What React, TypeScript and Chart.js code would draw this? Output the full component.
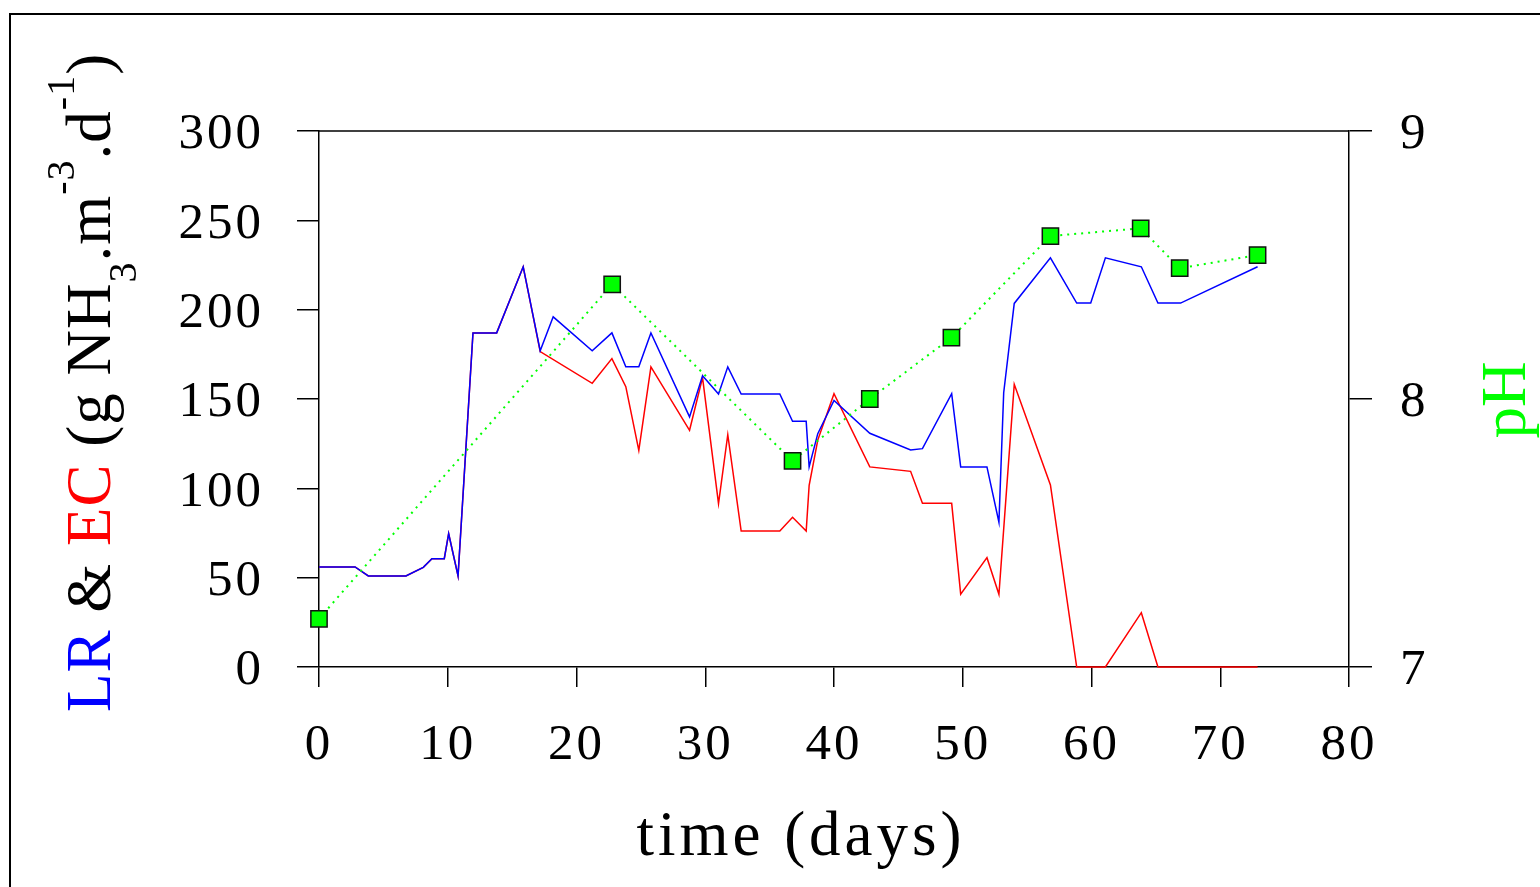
import React, { useEffect, useRef } from 'react';
import { Chart, registerables } from 'chart.js';

Chart.register(...registerables);

// ---------- data ----------
const lrDays = [0, 2.8, 3.83, 6.75, 8.1, 8.77, 9.73, 10.07, 10.8, 11.96, 13.8, 15.86, 17.18, 18.19, 21.22, 22.75, 23.83, 24.84, 25.78, 28.78, 29.79, 31.03, 31.75, 32.79, 35.79, 36.78, 37.84, 38.07, 38.74, 40.0, 42.78, 45.95, 46.87, 49.14, 49.84, 51.88, 52.81, 53.18, 54.0, 56.81, 58.85, 59.94, 61.08, 63.87, 65.16, 66.92, 72.9];
const lrValues = [56, 56, 51, 51, 55.8, 60.6, 60.6, 74.6, 51, 187, 187, 224, 177, 196, 177, 187, 168, 168, 187, 140, 163, 152.8, 168, 152.8, 152.8, 137.5, 137.5, 112, 130.6, 149.2, 130.8, 121.5, 122.2, 153, 112, 112, 81, 153.5, 203.5, 229, 203.7, 203.7, 229, 224, 203.7, 203.7, 224];

const ecDays = [0, 2.8, 3.83, 6.75, 8.1, 8.77, 9.73, 10.07, 10.8, 11.96, 13.8, 15.86, 17.18, 21.22, 22.75, 23.83, 24.84, 25.78, 28.78, 29.79, 31.03, 31.75, 32.79, 35.79, 36.78, 37.84, 38.07, 38.74, 40.0, 42.78, 45.95, 46.87, 49.14, 49.84, 51.88, 52.81, 54.0, 56.81, 58.85, 61.08, 63.87, 65.16, 72.9];
const ecValues = [56, 56, 51, 51, 55.8, 60.6, 60.6, 74.6, 51, 187, 187, 224, 176.5, 158.8, 172.6, 156.9, 121.3, 168, 132.5, 162, 91.4, 130, 76.1, 76.1, 83.8, 76.1, 101.7, 127, 153, 112, 109.5, 91.6, 91.6, 40.7, 61.2, 40.7, 158.2, 101.9, 0, 0, 30.4, 0, 0];

const phDays = [0, 22.77, 36.78, 42.78, 49.12, 56.81, 63.82, 66.85, 72.9];
const phValues = [7.18, 8.428, 7.769, 8.0, 8.229, 8.608, 8.637, 8.488, 8.537];

const xTickValues = [0, 10, 20, 30, 40, 50, 60, 70, 80];
const leftTickValues = [0, 50, 100, 150, 200, 250, 300];
const rightTickValues = [7, 8, 9];

const xTitle = 'time (days)';
const rightTitle = 'pH';

// ---------- styles ----------
const FONT = '"Liberation Serif", "Times New Roman", serif';
const W = 1540;
const H = 887;

type Seg = { text: string; size: number; color: string; dy: number };
const yTitleSegments: Seg[] = [
  { text: 'LR ', size: 63, color: '#0000ff', dy: 0 },
  { text: '& ', size: 63, color: '#000000', dy: 0 },
  { text: 'EC ', size: 63, color: '#ff0000', dy: 0 },
  { text: '(g NH', size: 63, color: '#000000', dy: 0 },
  { text: '3', size: 40, color: '#000000', dy: 26 },
  { text: '.m', size: 63, color: '#000000', dy: 0 },
  { text: '-3', size: 40, color: '#000000', dy: -36 },
  { text: '.d', size: 63, color: '#000000', dy: 0 },
  { text: '-1', size: 40, color: '#000000', dy: -36 },
  { text: ')', size: 63, color: '#000000', dy: 0 },
];

const decorPlugin = {
  id: 'decor',
  beforeDraw(chart: any) {
    (chart.ctx as any).letterSpacing = '3px';
  },
  afterDraw(chart: any) {
    const ctx = chart.ctx as CanvasRenderingContext2D & { letterSpacing?: string };
    const { left, right, top } = chart.chartArea;
    ctx.save();
    // outer frame
    ctx.strokeStyle = '#000';
    ctx.lineWidth = 2;
    ctx.beginPath();
    ctx.moveTo(10, H);
    ctx.lineTo(10, 14);
    ctx.lineTo(W, 14);
    ctx.stroke();
    // top border of plot
    ctx.lineWidth = 1.5;
    ctx.beginPath();
    ctx.moveTo(left, top);
    ctx.lineTo(right, top);
    ctx.stroke();

    // x title
    ctx.letterSpacing = '4px';
    ctx.font = `63px ${FONT}`;
    ctx.fillStyle = '#000';
    ctx.textAlign = 'center';
    ctx.textBaseline = 'alphabetic';
    ctx.fillText(xTitle, 801, 855);

    // right title (pH)
    ctx.save();
    ctx.translate(1525, 400);
    ctx.rotate(-Math.PI / 2);
    ctx.fillStyle = '#00ff00';
    ctx.letterSpacing = '0px';
    ctx.fillText(rightTitle, 0, 0);
    ctx.restore();

    // left rich title
    ctx.save();
    ctx.translate(110, 712);
    ctx.rotate(-Math.PI / 2);
    ctx.textAlign = 'left';
    ctx.letterSpacing = '1px';
    let cx = 0;
    for (const seg of yTitleSegments) {
      ctx.font = `${seg.size}px ${FONT}`;
      ctx.fillStyle = seg.color;
      ctx.fillText(seg.text, cx, seg.dy);
      cx += ctx.measureText(seg.text).width;
    }
    ctx.restore();

    ctx.restore();
  },
};

export default function App() {
  const ref = useRef<HTMLCanvasElement | null>(null);

  useEffect(() => {
    if (!ref.current) return;
    const toXY = (xs: number[], ys: number[]) => xs.map((x, i) => ({ x, y: ys[i] }));
    const axisCommon = {
      border: { display: true, color: '#000', width: 1.5 },
      grid: { drawOnChartArea: false, drawTicks: true, color: '#000', lineWidth: 1.5 },
    };
    const tickFont = { family: FONT, size: 51 };
    const chart = new Chart(ref.current, {
      type: 'line',
      data: {
        datasets: [
          {
            label: 'pH',
            data: toXY(phDays, phValues),
            yAxisID: 'y1',
            borderColor: '#00ff00',
            borderWidth: 2,
            borderDash: [2, 5],
            pointStyle: 'rect',
            pointRadius: 11.5,
            pointBackgroundColor: '#00ff00',
            pointBorderColor: '#111',
            pointBorderWidth: 1.5,
            tension: 0,
            clip: false,
            order: 0,
          },
          {
            label: 'LR',
            data: toXY(lrDays, lrValues),
            yAxisID: 'y',
            borderColor: '#0000ff',
            borderWidth: 1.5,
            pointRadius: 0,
            tension: 0,
            clip: false,
            order: 1,
          },
          {
            label: 'EC',
            data: toXY(ecDays, ecValues),
            yAxisID: 'y',
            borderColor: '#ff0000',
            borderWidth: 1.5,
            pointRadius: 0,
            tension: 0,
            clip: false,
            order: 2,
          },
        ],
      },
      options: {
        responsive: false,
        animation: false,
        devicePixelRatio: 1,
        layout: { padding: { top: 131, left: 0, right: 0, bottom: 0 } },
        plugins: { legend: { display: false }, tooltip: { enabled: false } },
        scales: {
          x: {
            type: 'linear',
            position: 'bottom',
            min: 0,
            max: 80,
            ...axisCommon,
            grid: { ...axisCommon.grid, tickLength: 20 },
            ticks: { color: '#000', font: tickFont, padding: 28, maxRotation: 0 },
            afterBuildTicks: (s: any) => { s.ticks = xTickValues.map((v) => ({ value: v })); },
            afterFit: (s: any) => { s.height = H - 667; },
          },
          y: {
            type: 'linear',
            position: 'left',
            min: 0,
            max: 300,
            ...axisCommon,
            grid: { ...axisCommon.grid, tickLength: 22 },
            ticks: { color: '#000', font: tickFont, padding: 33, labelOffset: 4 },
            afterBuildTicks: (s: any) => { s.ticks = leftTickValues.map((v) => ({ value: v })); },
            afterFit: (s: any) => { s.width = 319; },
          },
          y1: {
            type: 'linear',
            position: 'right',
            min: 7,
            max: 9,
            ...axisCommon,
            grid: { ...axisCommon.grid, tickLength: 23 },
            ticks: { color: '#000', font: tickFont, padding: 28, labelOffset: 4 },
            afterBuildTicks: (s: any) => { s.ticks = rightTickValues.map((v) => ({ value: v })); },
            afterFit: (s: any) => { s.width = W - 1349; },
          },
        },
      },
      plugins: [decorPlugin],
    } as any);
    return () => chart.destroy();
  }, []);

  return (
    <div style={{ position: 'fixed', left: 0, top: 0, width: W, height: H, overflow: 'hidden', background: '#fff' }}>
      <canvas ref={ref} width={W} height={H} style={{ display: 'block', width: W, height: H }} />
    </div>
  );
}
